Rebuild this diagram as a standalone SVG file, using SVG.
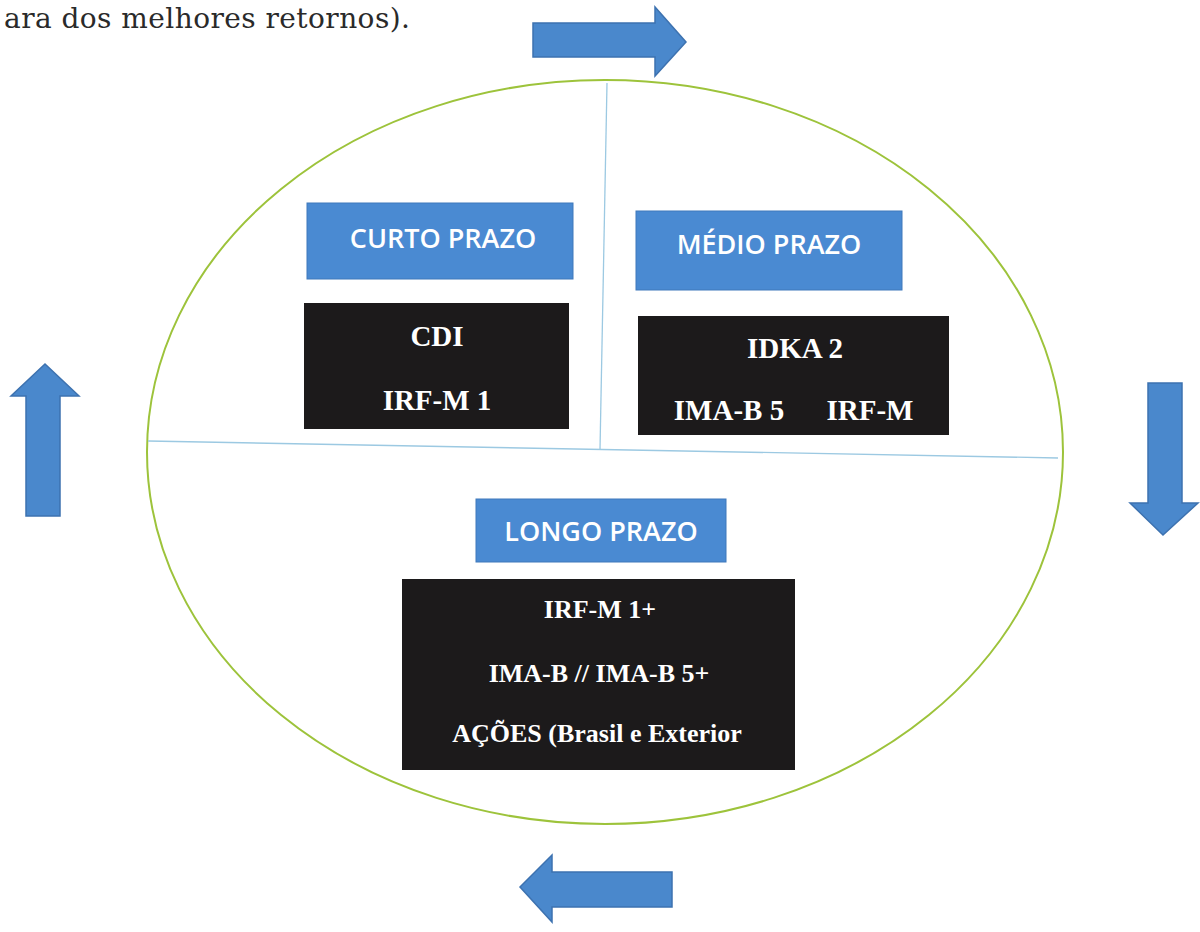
<svg xmlns="http://www.w3.org/2000/svg" width="1200" height="932" viewBox="0 0 1200 932">
<style>
.arrow{fill:#4a88cc;stroke:#3d72b0;stroke-width:1.5}
.lbl{fill:#4a8ad2;stroke:#3f79bb;stroke-width:1}
.lbltxt{font-family:"Open Sans","Liberation Sans",sans-serif;font-weight:600;font-size:27px;fill:#ffffff;text-anchor:middle}
.dark{fill:#1c1a1b}
.idx{font-family:"Liberation Serif",serif;font-weight:bold;fill:#ffffff;text-anchor:middle}
.div{stroke:#9cc9e2;stroke-width:1.3;fill:none}
</style>
<rect width="1200" height="932" fill="#ffffff"/>
<text x="4" y="28" font-family="'DejaVu Serif','Liberation Serif',serif" font-size="28" fill="#2a2a2a" textLength="406">ara dos melhores retornos).</text>
<ellipse id="cycle" cx="605" cy="452" rx="458" ry="372" fill="none" stroke="#9dc33b" stroke-width="2"/>
<g id="connectors">
<line class="div" x1="607" y1="83" x2="600" y2="450"/>
<line class="div" x1="148" y1="441" x2="1058" y2="458"/>
<polygon id="arrow-top" class="arrow" points="533,23 655,23 655,7 686,42 655,76 655,57 533,57"/>
<polygon id="arrow-right" class="arrow" points="1148,383 1182,383 1182,503 1198,503 1163,535 1130,503 1148,503"/>
<polygon id="arrow-bottom" class="arrow" points="672,872 552,872 552,855 520,887 552,922 552,907 672,907"/>
<polygon id="arrow-left" class="arrow" points="26,516 26,396 11,396 45,364 79,396 60,396 60,516"/>
</g>
<g id="curto">
<rect class="lbl" x="307" y="203" width="266" height="76"/>
<text class="lbltxt" x="443" y="248">CURTO PRAZO</text>
<rect class="dark" x="304" y="303" width="265" height="126"/>
<text class="idx" x="437" y="346" font-size="29">CDI</text>
<text class="idx" x="437" y="410" font-size="29">IRF-M 1</text>
</g>
<g id="medio">
<rect class="lbl" x="636" y="211" width="266" height="79"/>
<text class="lbltxt" x="769" y="254">MÉDIO PRAZO</text>
<rect class="dark" x="638" y="316" width="311" height="119"/>
<text class="idx" x="795" y="358" font-size="29">IDKA 2</text>
<text class="idx" x="729" y="420" font-size="29">IMA-B 5</text>
<text class="idx" x="870" y="420" font-size="29">IRF-M</text>
</g>
<g id="longo">
<rect class="lbl" x="476" y="499" width="250" height="63"/>
<text class="lbltxt" x="601" y="541">LONGO PRAZO</text>
<rect class="dark" x="402" y="579" width="393" height="191"/>
<text class="idx" x="600" y="618" font-size="26">IRF-M 1+</text>
<text class="idx" x="599" y="682" font-size="26">IMA-B // IMA-B 5+</text>
<text class="idx" x="597" y="742" font-size="26">AÇÕES (Brasil e Exterior</text>
</g>
</svg>
